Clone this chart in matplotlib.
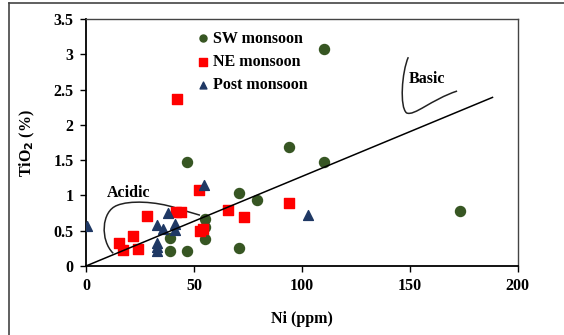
import matplotlib
matplotlib.use("Agg")
import matplotlib.pyplot as plt
from matplotlib.lines import Line2D
from matplotlib.path import Path
from matplotlib.patches import PathPatch
import numpy as np

plt.rcParams["font.family"] = ["Liberation Serif", "DejaVu Serif"]
plt.rcParams["font.weight"] = "bold"

# Ni (ppm) vs TiO2 (%)
sw_ni = [46.9, 94.0, 110.3, 110.3, 71.0, 79.3, 55.0, 55.0, 55.0, 39.0, 39.0, 46.9, 71.0, 173.1]
sw_tio2 = [1.47, 1.69, 1.48, 3.08, 1.03, 0.93, 0.66, 0.55, 0.38, 0.39, 0.21, 0.21, 0.26, 0.78]

ne_ni = [15.3, 17.3, 21.9, 24.2, 28.1, 41.5, 43.8, 52.3, 54.0, 52.8, 66.0, 73.0, 94.0, 42.0]
ne_tio2 = [0.33, 0.23, 0.42, 0.24, 0.71, 0.77, 0.77, 1.08, 0.53, 0.49, 0.80, 0.69, 0.89, 2.37]

post_ni = [0.6, 54.8, 37.8, 32.7, 35.5, 41.0, 41.0, 32.7, 32.7, 32.7, 102.9]
post_tio2 = [0.57, 1.15, 0.75, 0.58, 0.53, 0.60, 0.51, 0.32, 0.27, 0.21, 0.72]

# discrimination line through the origin
trend_ni = [0, 188.3]
trend_tio2 = [0, 2.39]

# hand-drawn field outlines (bezier vertices)
acidic_verts = [(12.6, 0.18), (6.5, 0.36), (7.0, 0.78), (14.5, 0.86),
                (20.0, 0.93), (32.0, 0.92), (42.0, 0.82), (47.0, 0.77), (52.8, 0.72)]
acidic_codes = [Path.MOVETO, Path.CURVE4, Path.CURVE4, Path.CURVE4,
                Path.CURVE4, Path.CURVE4, Path.CURVE4, Path.CURVE3, Path.CURVE3]

basic_verts = [(149.3, 2.96), (146.3, 2.75), (145.2, 2.25), (148.5, 2.17),
               (152.0, 2.12), (160.0, 2.36), (171.9, 2.48)]
basic_codes = [Path.MOVETO, Path.CURVE4, Path.CURVE4, Path.CURVE4,
               Path.CURVE4, Path.CURVE4, Path.CURVE4]

green = "#375623"
red = "#ff0000"
navy = "#1f3864"
fs = 11.5

fig = plt.figure(figsize=(5.64, 3.35), dpi=100)
ax = fig.add_axes([0.1525, 0.206, 0.7655, 0.737])

# outer frame
fig.add_artist(Line2D([9 / 564, 9 / 564], [-0.1, 1 - 3 / 335], color="#444444", lw=1.2))
fig.add_artist(Line2D([9 / 564, 1.1], [1 - 3 / 335, 1 - 3 / 335], color="#444444", lw=1.2))

ax.plot(trend_ni, trend_tio2, color="black", lw=1.1, zorder=4)
for verts, codes in [(acidic_verts, acidic_codes), (basic_verts, basic_codes)]:
    ax.add_patch(PathPatch(Path(verts, codes), fill=False, edgecolor="#222222", lw=1.1, zorder=2))

ax.scatter(sw_ni, sw_tio2, s=52, marker="o", color=green, zorder=3, label="SW monsoon")
ax.scatter(ne_ni, ne_tio2, s=52, marker="s", color=red, zorder=3, label="NE monsoon")
ax.scatter(post_ni, post_tio2, s=50, marker="^", color=navy, zorder=3, label="Post monsoon")

ax.text(9.5, 1.04, "Acidic", fontsize=fs, fontweight="bold", va="center")
ax.text(149.5, 2.65, "Basic", fontsize=fs, fontweight="bold", va="center")

ax.set_xlim(0, 200)
ax.set_ylim(0, 3.5)
ax.set_xticks(np.arange(0, 201, 50))
ax.set_yticks(np.arange(0, 3.51, 0.5))
ax.set_yticklabels(["0", "0.5", "1", "1.5", "2", "2.5", "3", "3.5"])
ax.tick_params(labelsize=fs, length=4, width=1, direction="out")
ax.tick_params(axis="x", pad=5)
ax.tick_params(axis="y", pad=5)
for lab in ax.get_xticklabels() + ax.get_yticklabels():
    lab.set_fontweight("bold")

ax.set_xlabel("Ni (ppm)", fontsize=fs, fontweight="bold", labelpad=12)
ax.set_ylabel("TiO$_\\mathbf{2}$ (%)", fontsize=fs, fontweight="bold", labelpad=12)

for side in ["left", "bottom"]:
    ax.spines[side].set_linewidth(1.3)
for side in ["top", "right"]:
    ax.spines[side].set_linewidth(1.0)
    ax.spines[side].set_color("#444444")

ax.legend(loc="upper left", bbox_to_anchor=(0.22, 1.005), frameon=False,
          prop={"size": fs, "weight": "bold"}, handletextpad=0.0,
          markerscale=0.7, labelspacing=0.45, borderaxespad=0.4,
          handlelength=1.2)

fig.savefig("out.png", dpi=100)
